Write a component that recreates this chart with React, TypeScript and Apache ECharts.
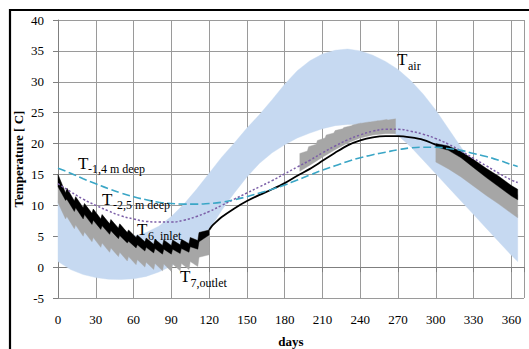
import React, { useEffect, useRef } from "react";
import * as echarts from "echarts";

// ---- Air temperature band (daily range envelope) ----
const tairDays = [0, 10, 20, 30, 40, 50, 60, 70, 80, 90, 100, 110, 120, 130, 140, 150, 160, 170, 180, 190, 200, 210, 220, 230, 240, 250, 260, 270, 280, 290, 300, 310, 320, 330, 340, 350, 360, 365];
const tairUpper = [10.8, 8.8, 7.3, 6.3, 5.6, 5.2, 5.0, 5.6, 6.6, 8.2, 10.2, 12.6, 15.2, 17.8, 20.1, 22.5, 24.7, 27.1, 29.6, 31.8, 33.4, 34.5, 35.1, 35.3, 35.0, 34.3, 33.3, 32.0, 30.2, 28.0, 25.4, 22.4, 19.4, 16.5, 14.0, 11.6, 9.5, 8.5];
const tairLower = [0.9, -0.4, -1.2, -1.7, -1.95, -2.0, -1.9, -1.5, -0.8, 0.2, 1.5, 3.2, 6.0, 9.2, 12.0, 14.6, 16.8, 18.5, 19.8, 20.9, 21.7, 22.4, 22.9, 23.1, 23.1, 22.8, 22.3, 21.3, 19.5, 17.3, 15.1, 12.9, 10.7, 8.5, 6.3, 4.1, 1.9, 0.9];

// ---- Winter operation (weekly sawtooth), days 0-120 ----
const weekStarts = [0, 7, 14, 21, 28, 35, 42, 49, 56, 63, 70, 77, 84, 91, 98, 105, 112];
const winterEnd = 120;
const inletTopStart = [15.0, 12.8, 11.4, 10.3, 9.4, 8.5, 7.7, 7.0, 6.0, 5.2, 4.7, 4.5, 4.4, 4.4, 4.5, 4.8, 5.6];
const inletTopEnd = [12.0, 10.7, 9.6, 8.7, 7.8, 7.0, 6.3, 5.6, 4.8, 4.1, 3.7, 3.5, 3.5, 3.6, 3.8, 4.3, 6.0];
const inletBotStart = [13.0, 11.0, 9.6, 8.5, 7.6, 6.7, 5.9, 5.1, 4.2, 3.6, 3.2, 3.0, 2.9, 2.9, 3.0, 3.3, 4.1];
const inletBotEnd = [10.8, 9.0, 7.8, 6.9, 6.1, 5.3, 4.6, 3.9, 3.1, 2.6, 2.3, 2.1, 2.1, 2.2, 2.4, 2.9, 5.2];
const outletBotStart = [10.4, 8.2, 6.8, 5.7, 4.8, 3.9, 3.1, 2.4, 1.7, 1.2, 0.8, 0.6, 0.5, 0.5, 0.6, 0.9, 1.6];
const outletBotEnd = [7.8, 6.2, 5.0, 4.1, 3.2, 2.4, 1.7, 1.0, 0.4, 0.0, -0.4, -0.6, -0.7, -0.6, -0.4, 0.1, 2.0];

// ---- Inlet as single line, days 120-300 ----
const inletLineDays = [120, 122, 125, 130, 140, 150, 160, 170, 180, 190, 200, 210, 220, 230, 240, 250, 260, 270, 280, 290, 300];
const inletLine = [6.0, 6.6, 7.2, 8.1, 9.5, 10.7, 11.7, 12.6, 13.6, 14.8, 15.9, 17.2, 18.5, 19.7, 20.5, 21.0, 21.2, 21.2, 21.0, 20.6, 19.8];

// ---- Summer outlet block, days 192-268 ----
const summerWeeks = [192, 199, 206, 213, 220, 227, 234, 241, 248, 255, 262];
const summerEnd = 268;
const outletSummerTopStart = [18.4, 19.5, 20.5, 21.4, 22.1, 22.6, 23.0, 23.3, 23.5, 23.7, 23.8];
const outletSummerTopEnd = [18.8, 19.9, 20.9, 21.7, 22.4, 22.9, 23.3, 23.5, 23.7, 23.9, 24.0];
const summerBotDays = [192, 200, 210, 220, 230, 240, 250, 260, 268];
const outletSummerBot = [15.5, 16.5, 17.8, 19.0, 20.1, 20.9, 21.4, 21.6, 21.6];

// ---- Autumn operation, days 300-365 ----
const autumnDays = [300, 310, 320, 330, 340, 350, 360, 365];
const inletAutumnTop = [20.0, 19.6, 18.7, 17.4, 16.0, 14.7, 13.2, 12.6];
const inletAutumnBot = [19.5, 18.9, 17.7, 16.1, 14.5, 13.0, 11.5, 10.9];
const outletAutumnTop = [19.8, 19.2, 18.2, 16.8, 15.4, 14.0, 12.4, 11.7];
const outletAutumnBot = [17.0, 15.9, 14.6, 13.1, 11.6, 10.2, 8.7, 8.0];

// ---- Ground temperatures ----
const soilDays = tairDays;
const soil14 = [16.0, 15.2, 14.3, 13.5, 12.7, 12.0, 11.4, 10.9, 10.5, 10.3, 10.2, 10.2, 10.3, 10.5, 10.9, 11.4, 12.0, 12.6, 13.3, 14.1, 14.9, 15.7, 16.4, 17.1, 17.7, 18.2, 18.6, 19.0, 19.3, 19.4, 19.4, 19.2, 18.9, 18.4, 17.9, 17.3, 16.6, 16.3];
const soil25 = [13.5, 12.2, 11.0, 10.0, 9.1, 8.3, 7.8, 7.4, 7.3, 7.3, 7.6, 8.2, 9.0, 10.0, 11.0, 12.0, 13.0, 14.0, 15.1, 16.2, 17.3, 18.5, 19.6, 20.6, 21.4, 22.0, 22.3, 22.3, 22.0, 21.5, 20.8, 19.9, 18.8, 17.6, 16.4, 15.2, 14.1, 13.7];

const xTickValues = [0, 30, 60, 90, 120, 150, 180, 210, 240, 270, 300, 330, 360];

const FONT = "Liberation Serif";

function pairs(xs: number[], ys: number[]) {
  return xs.map((x, i) => [x, ys[i]]);
}

function sawEdge(starts: number[], end: number, s: number[], e: number[]) {
  const pts: number[][] = [];
  for (let k = 0; k < starts.length; k++) {
    const next = k + 1 < starts.length ? starts[k + 1] : end;
    pts.push([starts[k], s[k]]);
    pts.push([k + 1 < starts.length ? next - 1 : next, e[k]]);
  }
  return pts;
}

function band(top: number[][], bottom: number[][]) {
  return top.concat(bottom.slice().reverse());
}

function bandSeries(name: string, pts: number[][], color: string) {
  return {
    type: "custom",
    name,
    coordinateSystem: "cartesian2d",
    silent: true,
    data: [[pts[0][0], pts[0][1]]],
    encode: { x: 0, y: 1 },
    renderItem: (_params: any, api: any) => ({
      type: "polygon",
      shape: { points: pts.map((p) => api.coord(p)) },
      style: { fill: color, stroke: color, lineWidth: 0.4 },
    }),
  };
}

function label(x: number, y: number, main: string, sub: string, subDx: number, subDy: number) {
  return [
    { type: "text", x, y, z: 100, style: { text: main, fill: "#000", font: `17px "${FONT}"`, textAlign: "left", textVerticalAlign: "middle" } },
    { type: "text", x: x + subDx, y: y + subDy, z: 100, style: { text: sub, fill: "#000", font: `12px "${FONT}"`, textAlign: "left", textVerticalAlign: "middle" } },
  ];
}

export default function App() {
  const ref = useRef<HTMLDivElement>(null);
  useEffect(() => {
    document.body.style.margin = "0";
    const chart = echarts.init(ref.current!, undefined, { renderer: "svg" });

    const tairBand = band(pairs(tairDays, tairUpper), pairs(tairDays, tairLower));
    const inletTop = sawEdge(weekStarts, winterEnd, inletTopStart, inletTopEnd);
    const inletBot = sawEdge(weekStarts, winterEnd, inletBotStart, inletBotEnd);
    const outletBot = sawEdge(weekStarts, winterEnd, outletBotStart, outletBotEnd);
    const summerTop = sawEdge(summerWeeks, summerEnd, outletSummerTopStart, outletSummerTopEnd);

    const axisColor = "#7f7f7f";
    const gridColor = "#9a9a9a";

    chart.setOption({
      animation: false,
      grid: { left: 58, right: 5, top: 20, bottom: 51, containLabel: false, outerBoundsMode: "none" },
      xAxis: {
        type: "value",
        min: 0,
        max: 370,
        interval: 30,
        axisLine: { show: true, lineStyle: { color: axisColor } },
        axisTick: { show: true, length: 5, lineStyle: { color: axisColor } },
        splitLine: { show: true, lineStyle: { color: gridColor, width: 1 } },
        axisLabel: {
          color: "#000",
          fontFamily: FONT,
          fontSize: 13,
          margin: 15,
          formatter: (v: number) => (xTickValues.indexOf(v) >= 0 ? String(v) : ""),
        },
        name: "days",
        nameLocation: "middle",
        nameGap: 37,
        nameMoveOverlap: false,
        nameTextStyle: { fontFamily: FONT, fontWeight: "bold", fontSize: 13, color: "#000" },
      },
      yAxis: {
        type: "value",
        min: -5,
        max: 40,
        interval: 5,
        axisLine: { show: true, lineStyle: { color: axisColor } },
        axisTick: { show: true, length: 5, lineStyle: { color: axisColor } },
        splitLine: { show: true, lineStyle: { color: gridColor, width: 1 } },
        axisLabel: { color: "#000", fontFamily: FONT, fontSize: 13, margin: 14 },
        name: "Temperature [ C]",
        nameLocation: "middle",
        nameGap: 33,
        nameRotate: 90,
        nameMoveOverlap: false,
        nameTextStyle: { fontFamily: FONT, fontWeight: "bold", fontSize: 13, color: "#000" },
      },
      series: [
        bandSeries("Tair", tairBand, "#c6d9f1"),
        bandSeries("T7 winter", band(inletTop, outletBot), "#a6a6a6"),
        bandSeries("T7 summer", band(summerTop, pairs(summerBotDays, outletSummerBot)), "#a6a6a6"),
        bandSeries("T7 autumn", band(pairs(autumnDays, outletAutumnTop), pairs(autumnDays, outletAutumnBot)), "#a6a6a6"),
        bandSeries("T6 winter", band(inletTop, inletBot), "#000000"),
        bandSeries("T6 autumn", band(pairs(autumnDays, inletAutumnTop), pairs(autumnDays, inletAutumnBot)), "#000000"),
        {
          type: "line",
          name: "T6 line",
          data: pairs(inletLineDays, inletLine),
          smooth: 0.3,
          symbol: "none",
          lineStyle: { color: "#000", width: 1.8 },
          silent: true,
        },
        {
          type: "line",
          name: "T -2,5 m",
          data: pairs(soilDays, soil25),
          smooth: true,
          symbol: "none",
          lineStyle: { color: "#7b5ea7", width: 1.5, type: [2.2, 2] },
          silent: true,
        },
        {
          type: "line",
          name: "T -1,4 m",
          data: pairs(soilDays, soil14),
          smooth: true,
          symbol: "none",
          lineStyle: { color: "#3aa6c6", width: 1.6, type: [8, 3.5] },
          silent: true,
        },
      ],
      graphic: [
        { type: "rect", shape: { x: 10, y: 10, width: 1000, height: 1000 }, style: { fill: "none", stroke: "#000", lineWidth: 2.2 }, z: 100, silent: true },
        ...label(78, 163.2, "T", "-1,4 m deep", 10, 6),
        ...label(102, 199.2, "T", "-2,5 m deep", 11, 5.5),
        ...label(137, 229.7, "T", "6, inlet", 11, 6.5),
        ...label(180, 276.2, "T", "7,outlet", 10.5, 6.5),
        ...label(397, 59.7, "T", "air", 11, 6.5),
      ],
    });
    return () => chart.dispose();
  }, []);
  return <div ref={ref} style={{ width: 529, height: 349 }} />;
}
